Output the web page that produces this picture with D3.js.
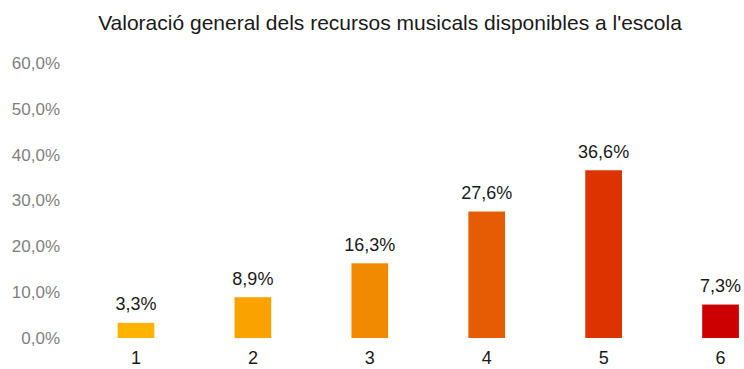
<!DOCTYPE html>
<html>
<head>
<meta charset="utf-8">
<script src="https://cdn.jsdelivr.net/npm/d3@7/dist/d3.min.js"></script>
<style>
  html, body { margin: 0; padding: 0; background: #fff; }
  svg { display: block; }
  text { font-family: "Liberation Sans", Arial, sans-serif; }
</style>
</head>
<body>
<svg id="chart" width="744" height="369"></svg>
<script>
// Rating scale and share of answers per rating
const categories = ["1", "2", "3", "4", "5", "6"];
const values = [0.033, 0.089, 0.163, 0.276, 0.366, 0.073];
const barColors = ["#FFB300", "#F9A200", "#F28A00", "#E65C04", "#DD3300", "#CC0000"];
const yTicks = [0, 0.1, 0.2, 0.3, 0.4, 0.5, 0.6];
const title = "Valoració general dels recursos musicals disponibles a l'escola";

const W = 744, H = 369;
const svg = d3.select("#chart");

// Catalan number formatting: comma as decimal separator
const ca = d3.formatLocale({ decimal: ",", thousands: ".", grouping: [3], currency: ["", " €"] });
const pct = ca.format(".1%");

const y = d3.scaleLinear().domain([0, 0.6]).range([338, 63]);
const x = d3.scaleBand()
  .domain(categories)
  .range([77.5, 779])
  .paddingInner(0.686)
  .paddingOuter(0.343);

// Title
svg.append("text")
  .attr("x", 390)
  .attr("y", 30)
  .attr("text-anchor", "middle")
  .attr("font-size", 21)
  .attr("fill", "#1a1a1a")
  .text(title);

// Y axis: labels only, no domain line or ticks
const yAxis = svg.append("g")
  .attr("transform", "translate(60,0)")
  .call(d3.axisLeft(y).tickValues(yTicks).tickFormat(pct).tickSize(0).tickPadding(0));
yAxis.select(".domain").remove();
yAxis.selectAll("text")
  .attr("font-size", 17)
  .attr("font-family", "'Liberation Sans', Arial, sans-serif")
  .attr("fill", "#7f7f7f");

// X axis: category labels below bars
const xAxis = svg.append("g")
  .attr("transform", "translate(0,351)")
  .call(d3.axisBottom(x).tickSize(0).tickPadding(0));
xAxis.select(".domain").remove();
xAxis.selectAll("text")
  .attr("font-size", 18)
  .attr("font-family", "'Liberation Sans', Arial, sans-serif")
  .attr("fill", "#1a1a1a")
  .attr("dy", "0.71em");

// Bars
svg.append("g")
  .selectAll("rect")
  .data(categories)
  .join("rect")
  .attr("x", d => x(d))
  .attr("width", x.bandwidth())
  .attr("y", (d, i) => y(values[i]))
  .attr("height", (d, i) => y(0) - y(values[i]))
  .attr("fill", (d, i) => barColors[i]);

// Value labels above bars
svg.append("g")
  .selectAll("text")
  .data(categories)
  .join("text")
  .attr("x", d => x(d) + x.bandwidth() / 2)
  .attr("y", (d, i) => y(values[i]) - 12.5)
  .attr("text-anchor", "middle")
  .attr("font-size", 18)
  .attr("fill", "#1a1a1a")
  .text((d, i) => pct(values[i]));
</script>
</body>
</html>
